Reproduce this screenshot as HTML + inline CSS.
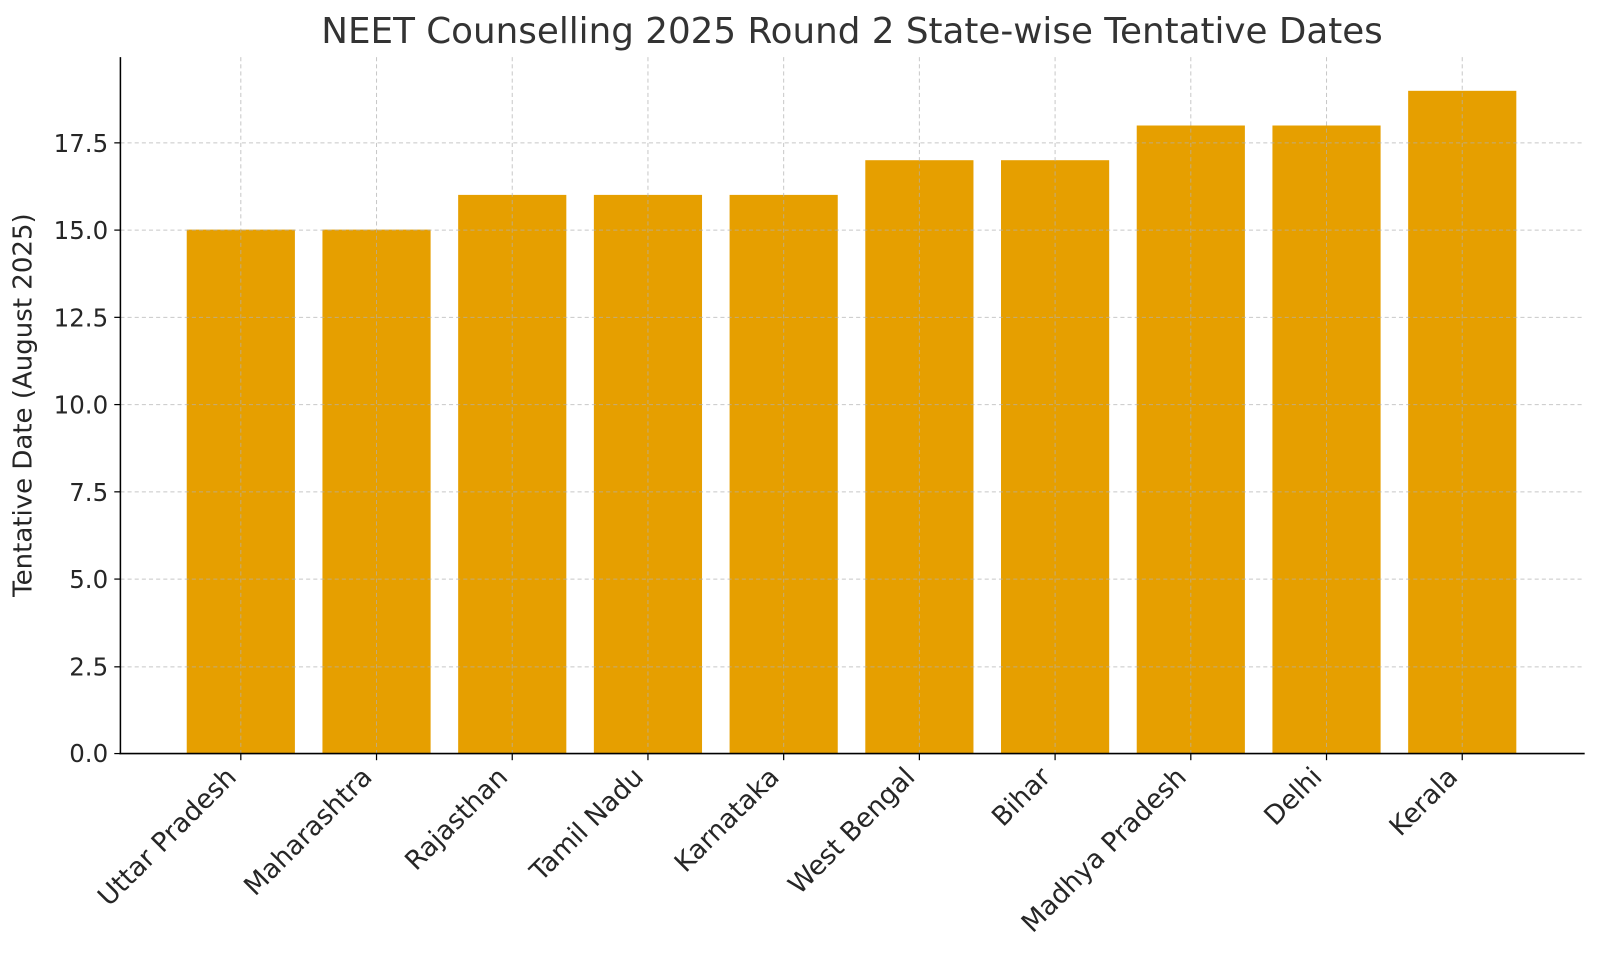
<!DOCTYPE html>
<html><head><meta charset="utf-8"><style>html,body{margin:0;padding:0;background:#fff;overflow:hidden;width:1600px;height:954px}svg{display:block}</style></head><body>
<svg width="1600" height="954" viewBox="0 0 1600 954" xmlns="http://www.w3.org/2000/svg" font-family="DejaVu Sans, Liberation Sans, sans-serif" fill="#262626">
<rect width="1600" height="954" fill="#fff"/>
<g transform="scale(1.0204)">
<g fill="#E69F00">
<rect x="183" y="225" width="106" height="513"/>
<rect x="316" y="225" width="106" height="513"/>
<rect x="449" y="191" width="106" height="547"/>
<rect x="582" y="191" width="106" height="547"/>
<rect x="715" y="191" width="106" height="547"/>
<rect x="848" y="157" width="106" height="581"/>
<rect x="981" y="157" width="106" height="581"/>
<rect x="1114" y="123" width="106" height="615"/>
<rect x="1247" y="123" width="106" height="615"/>
<rect x="1380" y="89" width="106" height="649"/>
</g>
<g stroke="#b0b0b0" stroke-opacity="0.7" stroke-width="1" stroke-dasharray="4,3">
<line x1="118" x2="1553" y1="653.5" y2="653.5"/>
<line x1="118" x2="1553" y1="567.5" y2="567.5"/>
<line x1="118" x2="1553" y1="482" y2="482"/>
<line x1="118" x2="1553" y1="396.5" y2="396.5"/>
<line x1="118" x2="1553" y1="311" y2="311"/>
<line x1="118" x2="1553" y1="225.5" y2="225.5"/>
<line x1="118" x2="1553" y1="140" y2="140"/>
<line x1="236" x2="236" y1="56" y2="738"/>
<line x1="369" x2="369" y1="56" y2="738"/>
<line x1="502" x2="502" y1="56" y2="738"/>
<line x1="635" x2="635" y1="56" y2="738"/>
<line x1="768" x2="768" y1="56" y2="738"/>
<line x1="901" x2="901" y1="56" y2="738"/>
<line x1="1034" x2="1034" y1="56" y2="738"/>
<line x1="1167" x2="1167" y1="56" y2="738"/>
<line x1="1300" x2="1300" y1="56" y2="738"/>
<line x1="1433" x2="1433" y1="56" y2="738"/>
</g>
<g stroke="#000" stroke-width="1.5">
<line x1="118" x2="118" y1="56" y2="739"/>
<line x1="117" x2="1553" y1="738.5" y2="738.5"/>
</g>
<g stroke="#000" stroke-width="1.2">
<line x1="112" x2="118" y1="738.5" y2="738.5"/><line x1="112" x2="118" y1="653.5" y2="653.5"/><line x1="112" x2="118" y1="567.5" y2="567.5"/><line x1="112" x2="118" y1="482" y2="482"/><line x1="112" x2="118" y1="396.5" y2="396.5"/><line x1="112" x2="118" y1="311" y2="311"/><line x1="112" x2="118" y1="225.5" y2="225.5"/><line x1="112" x2="118" y1="140" y2="140"/>
<line x1="236" x2="236" y1="739" y2="745"/><line x1="369" x2="369" y1="739" y2="745"/><line x1="502" x2="502" y1="739" y2="745"/><line x1="635" x2="635" y1="739" y2="745"/><line x1="768" x2="768" y1="739" y2="745"/><line x1="901" x2="901" y1="739" y2="745"/><line x1="1034" x2="1034" y1="739" y2="745"/><line x1="1167" x2="1167" y1="739" y2="745"/><line x1="1300" x2="1300" y1="739" y2="745"/><line x1="1433" x2="1433" y1="739" y2="745"/>
</g>
<g font-size="24" text-anchor="end">
<text x="106" y="747">0.0</text><text x="106" y="662">2.5</text><text x="106" y="576">5.0</text><text x="106" y="491">7.5</text><text x="106" y="405">10.0</text><text x="106" y="320">12.5</text><text x="106" y="234">15.0</text><text x="106" y="149">17.5</text>
</g>
<g font-size="26" text-anchor="end">
<text transform="translate(233,763) rotate(-45)">Uttar Pradesh</text>
<text transform="translate(366,763) rotate(-45)">Maharashtra</text>
<text transform="translate(499,763) rotate(-45)">Rajasthan</text>
<text transform="translate(632,763) rotate(-45)">Tamil Nadu</text>
<text transform="translate(765,763) rotate(-45)">Karnataka</text>
<text transform="translate(898,763) rotate(-45)">West Bengal</text>
<text transform="translate(1031,763) rotate(-45)">Bihar</text>
<text transform="translate(1164,763) rotate(-45)">Madhya Pradesh</text>
<text transform="translate(1297,763) rotate(-45)">Delhi</text>
<text transform="translate(1430,763) rotate(-45)">Kerala</text>
</g>
<text transform="translate(31,397) rotate(-90)" font-size="25.5" text-anchor="middle">Tentative Date (August 2025)</text>
<text x="835" y="42" font-size="35" text-anchor="middle" fill="#333">NEET Counselling 2025 Round 2 State-wise Tentative Dates</text>
</g>
</svg>
</body></html>
